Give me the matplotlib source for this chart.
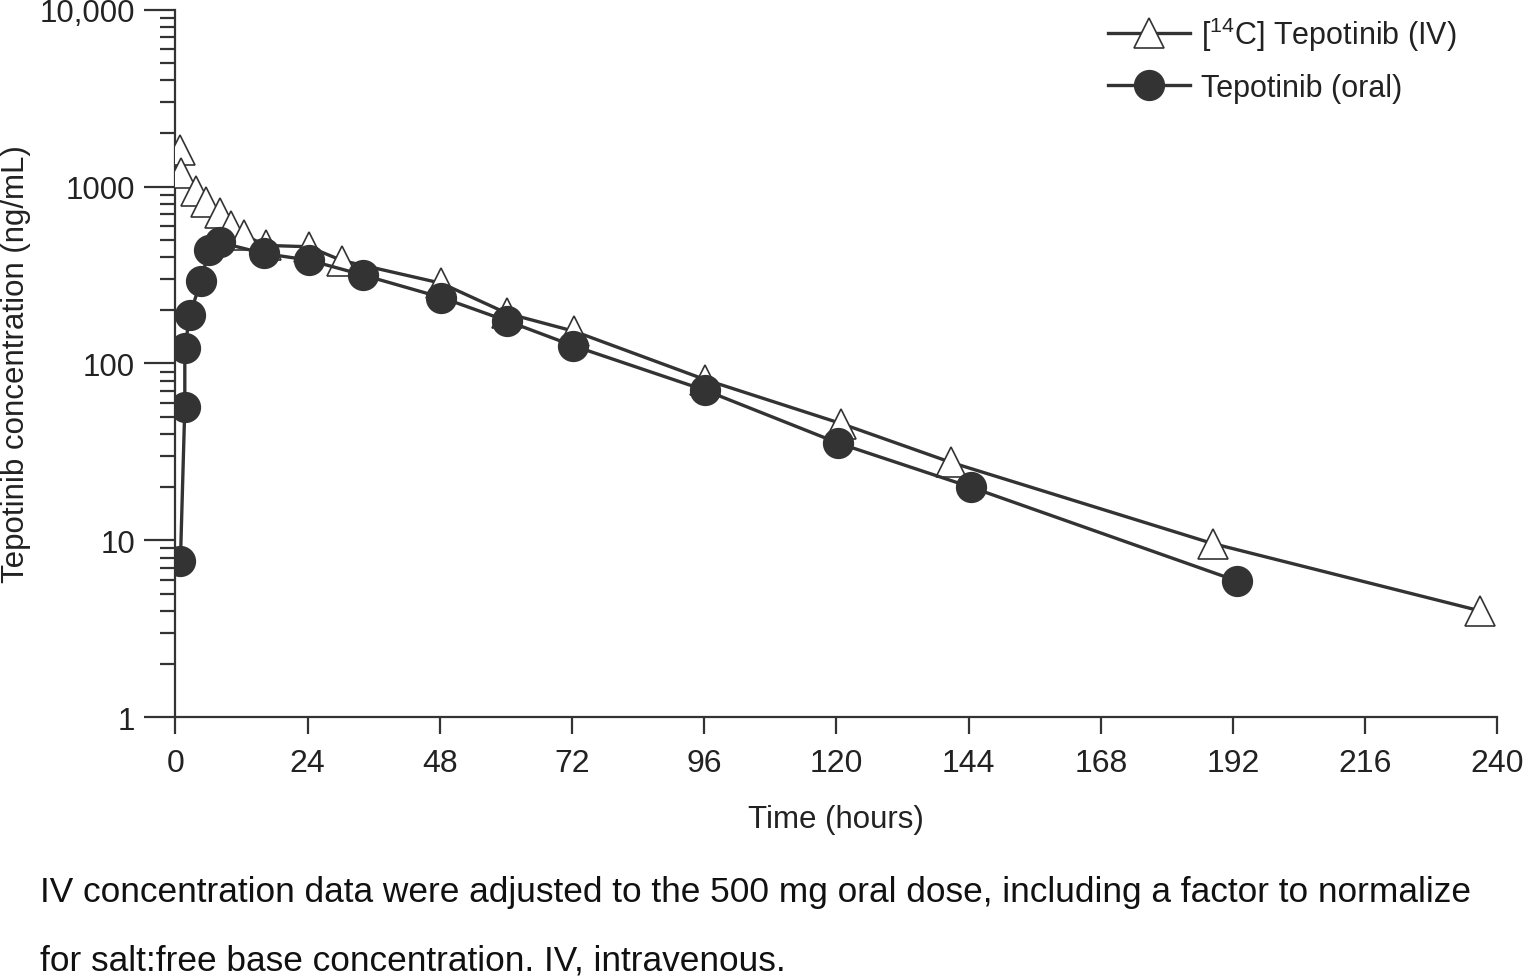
import numpy as np
import matplotlib
matplotlib.use("Agg")
import matplotlib.pyplot as plt
from matplotlib.ticker import LogLocator, FixedLocator, NullFormatter

plt.rcParams['font.family'] = ['Liberation Sans', 'DejaVu Sans']
plt.rcParams['mathtext.fontset'] = 'custom'
plt.rcParams['mathtext.rm'] = 'Liberation Sans'

# IV ([14C] tepotinib), adjusted concentrations
iv_time = [0.8, 1.0, 3.8, 5.5, 8.0, 10.0, 12.5, 16.4, 24.2, 30.2, 48.3,
           60.2, 72.4, 96.2, 120.9, 140.8, 188.3, 236.8]
iv_conc = [1600, 1190, 950, 815, 705, 595, 530, 465, 457, 382, 284,
           192, 152, 81, 45.7, 27.6, 9.6, 4.0]

# oral tepotinib
oral_time = [0.9, 1.7, 1.7, 2.6, 4.6, 6.1, 8.1, 16.0, 24.2, 34.1, 48.3,
             60.2, 72.2, 96.2, 120.3, 144.4, 192.7]
oral_conc = [7.6, 57, 122, 187, 292, 437, 483, 419, 384, 316, 236,
             174, 126, 70.5, 35.5, 20.0, 5.9]

x_ticks = [0, 24, 48, 72, 96, 120, 144, 168, 192, 216, 240]
y_ticks = [1, 10, 100, 1000, 10000]
y_tick_labels = ['1', '10', '100', '1000', '10,000']

dark = '#333333'
txt = '#222222'

fig = plt.figure(figsize=(15.23, 9.79), dpi=100)
ax = fig.add_axes([0.1152, 0.2663, 0.868, 0.7228])

ax.plot(iv_time, iv_conc, color=dark, lw=2.4, marker='^', markersize=22,
        markerfacecolor='white', markeredgecolor=dark, markeredgewidth=1.2,
        label=r'[$^{\mathrm{14}}$C] Tepotinib (IV)', zorder=3)
ax.plot(oral_time, oral_conc, color=dark, lw=2.4, marker='o', markersize=21.5,
        markerfacecolor=dark, markeredgecolor=dark, markeredgewidth=1.0,
        label='Tepotinib (oral)', zorder=4)

ax.set_yscale('log')
ax.set_xlim(0, 240)
ax.set_ylim(1, 10000)
ax.xaxis.set_major_locator(FixedLocator(x_ticks))
ax.set_xticklabels([str(t) for t in x_ticks])
ax.yaxis.set_major_locator(FixedLocator(y_ticks))
ax.set_yticklabels(y_tick_labels)
ax.yaxis.set_minor_locator(LogLocator(base=10, subs=np.arange(2, 10)))
ax.yaxis.set_minor_formatter(NullFormatter())

for side in ['top', 'right']:
    ax.spines[side].set_visible(False)
for side in ['left', 'bottom']:
    ax.spines[side].set_color(dark)
    ax.spines[side].set_linewidth(1.6)

ax.tick_params(axis='y', which='major', length=22, width=1.6, color=dark,
               labelsize=22.5, labelcolor=txt, pad=7)
ax.tick_params(axis='y', which='minor', length=11, width=1.6, color=dark)
ax.tick_params(axis='x', which='major', length=12, width=1.6, color=dark,
               labelsize=23, labelcolor=txt, pad=10)

ax.set_xlabel('Time (hours)', fontsize=22.5, color=txt, labelpad=19)
# y label placed by hand so it keeps clear of the wide tick labels
fig.text(0.0105, 0.628, 'Tepotinib concentration (ng/mL)', fontsize=22.5,
         color=txt, rotation=90, ha='center', va='center')

leg = ax.legend(loc='upper right', bbox_to_anchor=(0.969, 0.993), frameon=False,
                fontsize=22, handlelength=2.7, handletextpad=0.34,
                labelspacing=0.65, borderaxespad=0, borderpad=0,
                labelcolor=txt)

fig.text(0.026, 0.088, 'IV concentration data were adjusted to the 500 mg oral dose, '
         'including a factor to normalize', fontsize=25.4, color='#111111', va='center')
fig.text(0.026, 0.018, 'for salt:free base concentration. IV, intravenous.',
         fontsize=25.4, color='#111111', va='center')

fig.savefig('out.png', dpi=100, facecolor='white')
